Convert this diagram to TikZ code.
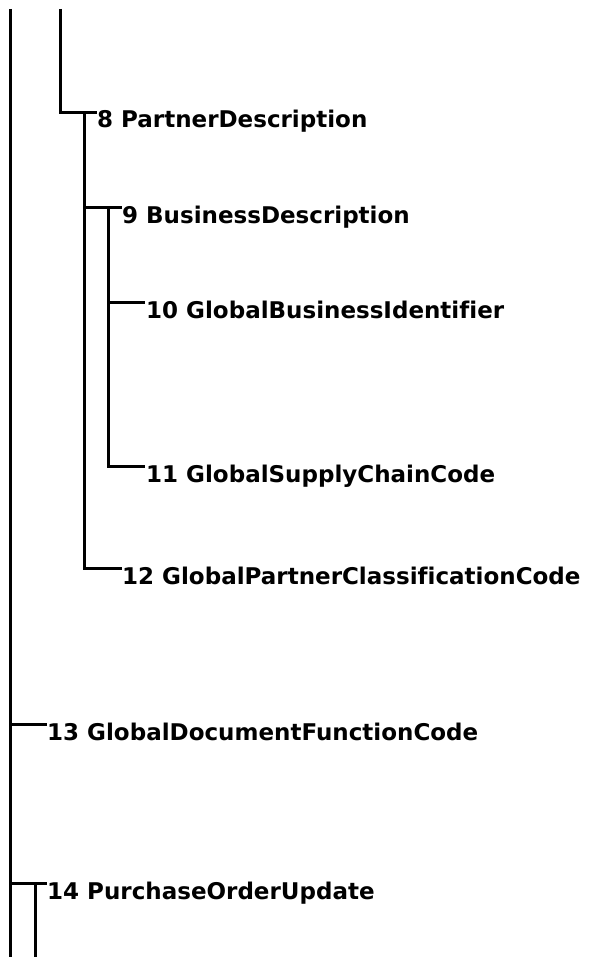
\documentclass[tikz,border=0pt]{standalone}
\usepackage{fontspec}
\setmainfont[Ligatures=NoCommon]{DejaVu Sans}
\begin{document}
\begin{tikzpicture}[x=1pt,y=-1pt,
  wire/.style={draw=black,line width=3pt},
  lbl/.style={anchor=base west,inner sep=0pt,font=\fontsize{23}{28}\selectfont\bfseries}]
\useasboundingbox (0,0) rectangle (598,957);
% labels
\node[lbl] (n8)  at (97,128)  {8 PartnerDescription};
\node[lbl] (n9)  at (122,224) {9 BusinessDescription};
\node[lbl] (n10) at (146,318) {10 GlobalBusinessIdentifier};
\node[lbl] (n11) at (146,482) {11 GlobalSupplyChainCode};
\node[lbl] (n12) at (122,584) {12 GlobalPartnerClassificationCode};
\node[lbl] (n13) at (47,740)  {13 GlobalDocumentFunctionCode};
\node[lbl] (n14) at (47,899)  {14 PurchaseOrderUpdate};
% junction coordinates
\coordinate (topA) at (10,9);
\coordinate (botA) at (10,957);
\coordinate (topB) at (60,9);
\coordinate (j8) at (97,113);
\coordinate (c8top) at (84,112);
\coordinate (j9) at (122,208);
\coordinate (j10) at (145,302);
\coordinate (j11) at (145,466);
\coordinate (c9top) at (108,208);
\coordinate (j12) at (122,568);
\coordinate (j13) at (47,724);
\coordinate (j14) at (47,883);
\coordinate (c14top) at (35,883);
\coordinate (c14bot) at (35,957);
% connectors
\draw[wire] (topA) -- (botA);
\draw[wire] (topB) |- (j8);
\draw[wire] (c8top) |- (j12);
\draw[wire] (c8top |- j9) -- (j9);
\draw[wire] (c9top) |- (j11);
\draw[wire] (c9top |- j10) -- (j10);
\draw[wire] (topA |- j13) -- (j13);
\draw[wire] (topA |- j14) -- (j14);
\draw[wire] (c14top) -- (c14bot);
\end{tikzpicture}
\end{document}
